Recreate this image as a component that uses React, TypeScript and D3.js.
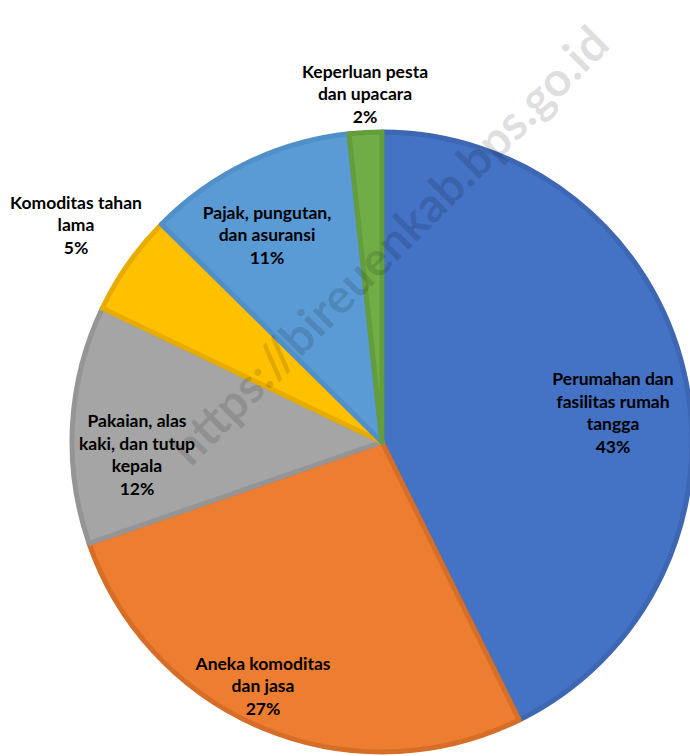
import * as React from "react";
import * as d3 from "d3";

// share of expenditure, clockwise from 12 o'clock
const categories = [
  "Perumahan dan fasilitas rumah tangga",
  "Aneka komoditas dan jasa",
  "Pakaian, alas kaki, dan tutup kepala",
  "Komoditas tahan lama",
  "Pajak, pungutan, dan asuransi",
  "Keperluan pesta dan upacara",
];
const values = [42.7, 27.0, 12.4, 5.3, 10.9, 1.7];
const labelLines = [
  ["Perumahan dan", "fasilitas rumah", "tangga"],
  ["Aneka komoditas", "dan jasa"],
  ["Pakaian, alas", "kaki, dan tutup", "kepala"],
  ["Komoditas tahan", "lama"],
  ["Pajak, pungutan,", "dan asuransi"],
  ["Keperluan pesta", "dan upacara"],
];

const fills = ["#4472C4", "#ED7D31", "#A5A5A5", "#FFC000", "#5B9BD5", "#70AD47"];
const borders = ["#3D66B3", "#D66E27", "#959595", "#E6AC00", "#518FC8", "#639D3C"];

// label block centres (Excel best fit placement)
const labelAnchors: [number, number][] = [
  [613, 413],
  [263, 686],
  [137, 455],
  [76, 225],
  [267, 235],
  [365, 94],
];

export default function App() {
  const ref = React.useRef<HTMLDivElement | null>(null);
  const width = 690;
  const height = 756;

  React.useEffect(() => {
    const svg = d3
      .select(ref.current)
      .append("svg")
      .attr("width", width)
      .attr("height", height)
      .style("position", "absolute")
      .style("left", "0px")
      .style("top", "0px")
      .style("background", "#ffffff");

    const cx = 382;
    const cy = 442;
    const radius = 310;

    const pie = d3
      .pie<number>()
      .sort(null)
      .value((d) => d);
    const arc = d3
      .arc<d3.PieArcDatum<number>>()
      .innerRadius(0)
      .outerRadius(radius);

    const g = svg.append("g").attr("transform", `translate(${cx},${cy})`);

    g.selectAll(".slice")
      .data(pie(values))
      .enter()
      .append("path")
      .attr("class", "slice")
      .attr("d", arc)
      .attr("fill", (_, i) => fills[i])
      .attr("stroke", (_, i) => borders[i])
      .attr("stroke-width", 5)
      .attr("stroke-linejoin", "round");

    // watermark
    svg
      .append("text")
      .attr("x", 390)
      .attr("y", 262)
      .attr("text-anchor", "middle")
      .attr("transform", "rotate(-45, 390, 246)")
      .attr("font-family", "Lato, 'Open Sans', sans-serif")
      .attr("font-weight", "bold")
      .attr("font-size", 48)
      .attr("fill", "#000000")
      .attr("fill-opacity", 0.13)
      .text("https://bireuenkab.bps.go.id");

    const lineH = 22.5;
    const labels = svg
      .selectAll(".label")
      .data(categories)
      .enter()
      .append("text")
      .attr("class", "label")
      .attr("font-family", "Lato, 'Open Sans', sans-serif")
      .attr("font-weight", "bold")
      .attr("font-size", 17.5)
      .attr("fill", "#000000")
      .attr("text-anchor", "middle");

    labels.each(function (_, i) {
      const lines = [...labelLines[i], `${Math.round(values[i])}%`];
      const [lx, ly] = labelAnchors[i];
      const top = ly - ((lines.length - 1) * lineH) / 2;
      d3.select(this)
        .selectAll("tspan")
        .data(lines)
        .enter()
        .append("tspan")
        .attr("x", lx)
        .attr("y", (_, j) => top + j * lineH)
        .attr("dy", "0.35em")
        .text((d) => d);
    });

    return function cleanup() {
      d3.select(ref.current).selectAll("svg").remove();
    };
  }, []);

  return <div ref={ref}></div>;
}
